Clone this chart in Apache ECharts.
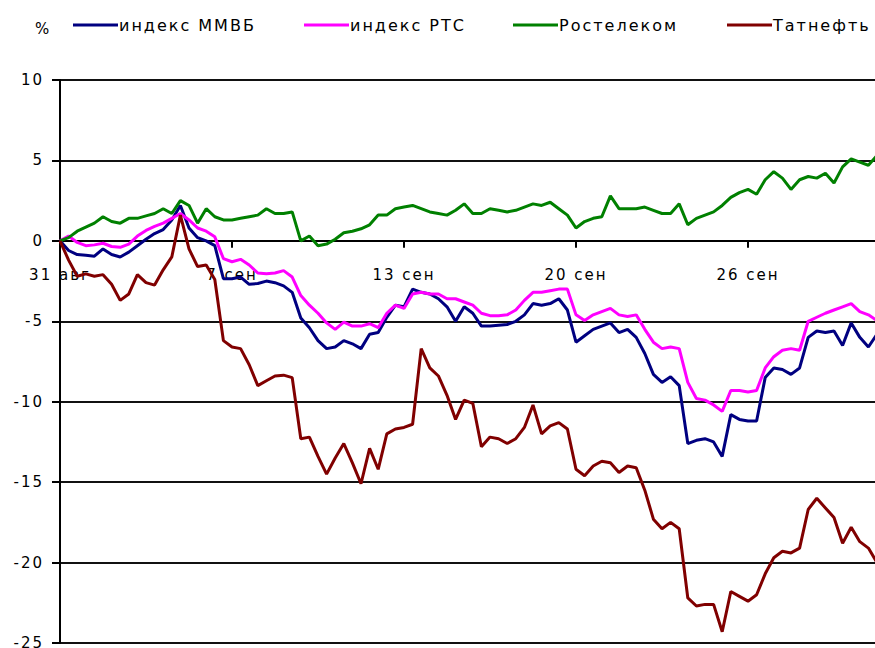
<!DOCTYPE html>
<html>
<head>
<meta charset="utf-8">
<script src="https://cdn.jsdelivr.net/npm/echarts@6/dist/echarts.min.js"></script>
<style>
  html, body { margin: 0; padding: 0; background: #fff; }
  #chart { width: 875px; height: 648px; }
  #chart text { letter-spacing: 2px; }
</style>
</head>
<body>
<div id="chart"></div>
<script>
// подписи дат через каждые 20 точек (последняя за краем рисунка)
const dateLabels = ['31 авг', '7 сен', '13 сен', '20 сен', '26 сен', ''];
const pointsPerLabel = 20;
const pointCount = 101;

const yMin = -25;
const yMax = 10;

const mmvb = [
  0, -0.6, -0.85, -0.9, -0.95, -0.5, -0.85, -1.0, -0.7, -0.3,
  0.1, 0.45, 0.7, 1.3, 2.2, 0.8, 0.2, 0.0, -0.3, -2.35,
  -2.35, -2.25, -2.7, -2.65, -2.5, -2.6, -2.8, -3.2, -4.8, -5.4,
  -6.2, -6.7, -6.6, -6.2, -6.4, -6.7, -5.8, -5.7, -4.75, -4.0,
  -4.1, -3.0, -3.2, -3.3, -3.6, -4.1, -5.0, -4.1, -4.5, -5.3,
  -5.3, -5.25, -5.2, -5.0, -4.6, -3.9, -4.0, -3.9, -3.6, -4.3,
  -6.3, -5.9, -5.5, -5.3, -5.1, -5.7, -5.5, -6.0, -7.0, -8.3,
  -8.8, -8.45, -9.0, -12.6, -12.4, -12.3, -12.5, -13.4, -10.8, -11.1,
  -11.2, -11.2, -8.5, -7.9, -8.0, -8.3, -7.9, -6.0, -5.6, -5.7,
  -5.6, -6.5, -5.1, -6.0, -6.6, -5.8
];

const rts = [
  0, 0.3, -0.1, -0.3, -0.25, -0.15, -0.35, -0.4, -0.2, 0.3,
  0.65, 0.9, 1.1, 1.4, 1.7, 1.3, 0.8, 0.6, 0.25, -1.1,
  -1.3, -1.15, -1.5, -2.0, -2.05, -2.0, -1.85, -2.25, -3.4, -4.0,
  -4.5, -5.1, -5.5, -5.05, -5.3, -5.3, -5.15, -5.4, -4.5, -4.0,
  -4.2, -3.3, -3.2, -3.3, -3.3, -3.6, -3.6, -3.8, -4.0, -4.5,
  -4.65, -4.65, -4.6, -4.3, -3.7, -3.2, -3.2, -3.1, -3.0, -3.0,
  -4.6, -4.95, -4.6, -4.4, -4.2, -4.6, -4.7, -4.6, -5.5, -6.3,
  -6.7, -6.6, -6.7, -8.8, -9.8, -9.9, -10.2, -10.6, -9.3, -9.3,
  -9.4, -9.3, -7.9, -7.2, -6.8, -6.7, -6.8, -5.0, -4.75, -4.5,
  -4.3, -4.1, -3.9, -4.4, -4.6, -4.95
];

const rostelecom = [
  0, 0.2, 0.6, 0.85, 1.1, 1.5, 1.2, 1.1, 1.4, 1.4,
  1.55, 1.7, 2.0, 1.7, 2.5, 2.2, 1.1, 2.0, 1.5, 1.3,
  1.3, 1.4, 1.5, 1.6, 2.0, 1.7, 1.7, 1.8, 0.0, 0.3,
  -0.3, -0.2, 0.1, 0.5, 0.6, 0.75, 1.0, 1.6, 1.6, 2.0,
  2.1, 2.2, 2.0, 1.8, 1.7, 1.6, 1.9, 2.3, 1.7, 1.7,
  2.0, 1.9, 1.8, 1.9, 2.1, 2.3, 2.2, 2.4, 2.0, 1.6,
  0.8, 1.2, 1.4, 1.5, 2.8, 2.0, 2.0, 2.0, 2.1, 1.9,
  1.7, 1.7, 2.3, 1.0, 1.4, 1.6, 1.8, 2.2, 2.7, 3.0,
  3.2, 2.9, 3.8, 4.3, 3.9, 3.2, 3.8, 4.0, 3.9, 4.2,
  3.6, 4.6, 5.1, 4.9, 4.7, 5.3
];

const tatneft = [
  0, -1.2, -2.2, -2.05, -2.2, -2.1, -2.7, -3.7, -3.3, -2.1,
  -2.6, -2.75, -1.8, -1.0, 1.6, -0.5, -1.6, -1.5, -2.4, -6.2,
  -6.6, -6.7, -7.7, -9.0, -8.7, -8.4, -8.35, -8.5, -12.3, -12.2,
  -13.4, -14.5, -13.5, -12.6, -13.8, -15.1, -12.9, -14.2, -12.0, -11.7,
  -11.6, -11.4, -6.7, -7.9, -8.4, -9.6, -11.1, -9.9, -10.1, -12.8,
  -12.2, -12.3, -12.6, -12.3, -11.6, -10.2, -12.0, -11.5, -11.3, -11.7,
  -14.2, -14.6, -14.0, -13.7, -13.8, -14.4, -14.0, -14.1, -15.5, -17.3,
  -17.9, -17.5, -17.9, -22.2, -22.7, -22.6, -22.6, -24.3, -21.8, -22.1,
  -22.4, -22.0, -20.7, -19.7, -19.3, -19.4, -19.1, -16.7, -16.0, -16.6,
  -17.2, -18.8, -17.8, -18.7, -19.1, -20.0
];

const seriesNames = ['индекс ММВБ', 'индекс РТС', 'Ростелеком', 'Татнефть'];
const seriesColors = ['#000080', '#ff00ff', '#008000', '#800000'];
const legendLeft = [73, 304, 513, 727];

const categories = [];
for (let i = 0; i < pointCount; i++) {
  categories.push(i % pointsPerLabel === 0 ? dateLabels[i / pointsPerLabel] : 'p' + i);
}

const chart = echarts.init(document.getElementById('chart'), null, { renderer: 'svg' });

const textFont = 'DejaVu Sans';
const gridHeight = 563;
// ось X проходит через ноль, подписи идут вместе с ней
const zeroOffset = -(0 - yMin) / (yMax - yMin) * gridHeight;

let option = {
  animation: false,
  backgroundColor: '#fff',
  title: {
    text: '%',
    left: 30,
    top: 16,
    textStyle: { fontFamily: textFont, fontSize: 15, fontWeight: 'normal', color: '#000' }
  },
  legend: seriesNames.map((name, i) => ({
    data: [name],
    left: legendLeft[i],
    top: 17,
    padding: 0,
    icon: 'rect',
    itemWidth: 45,
    itemHeight: 3,
    itemGap: 0,
    textStyle: { fontFamily: textFont, fontSize: 16, color: '#000', padding: [0, 0, 0, -4] }
  })),
  grid: {
    left: 60,
    top: 80,
    width: 860,
    height: gridHeight,
    outerBoundsMode: 'none'
  },
  xAxis: {
    type: 'category',
    data: categories,
    boundaryGap: false,
    position: 'bottom',
    offset: zeroOffset,
    axisLine: { onZero: false, lineStyle: { color: '#000', width: 2 } },
    axisTick: { show: true, interval: pointsPerLabel - 1, length: 7, lineStyle: { color: '#000', width: 2 } },
    axisLabel: {
      interval: pointsPerLabel - 1,
      margin: 27,
      fontFamily: textFont,
      fontSize: 15,
      color: '#000'
    },
    splitLine: { show: false }
  },
  yAxis: {
    type: 'value',
    min: yMin,
    max: yMax,
    interval: 5,
    axisLine: { show: true, lineStyle: { color: '#000', width: 2 } },
    axisTick: { show: true, length: 8, lineStyle: { color: '#000', width: 2 } },
    axisLabel: {
      margin: 16,
      fontFamily: textFont,
      fontSize: 15,
      color: '#000'
    },
    splitLine: { show: true, lineStyle: { color: '#111', width: 2 } }
  },
  series: seriesNames.map((name, i) => ({
    name: name,
    type: 'line',
    data: [mmvb, rts, rostelecom, tatneft][i],
    symbol: 'none',
    color: seriesColors[i],
    lineStyle: { width: 3, color: seriesColors[i] }
  }))
};

chart.setOption(option);
</script>
</body>
</html>
